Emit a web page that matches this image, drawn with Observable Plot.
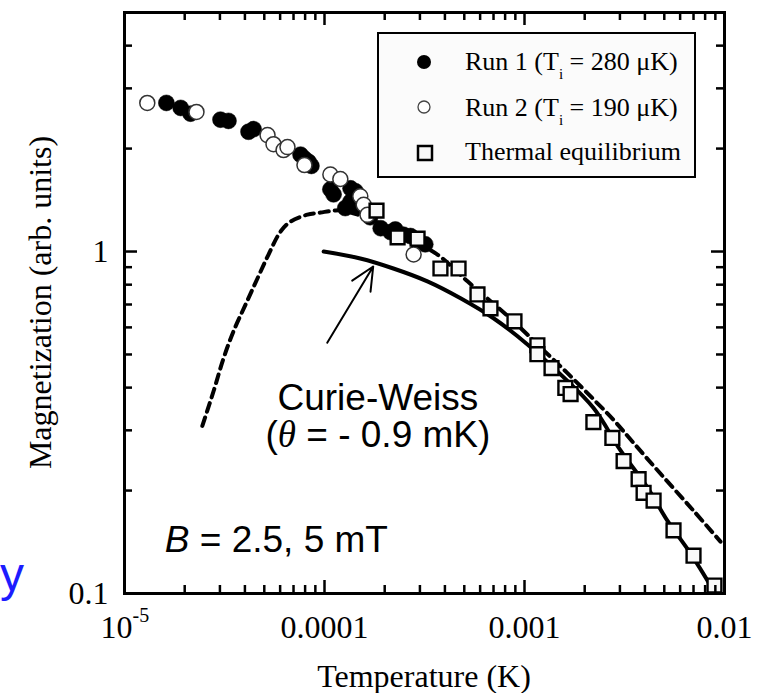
<!DOCTYPE html>
<html><head><meta charset="utf-8">
<script src="https://cdn.jsdelivr.net/npm/d3@7"></script>
<script src="https://cdn.jsdelivr.net/npm/@observablehq/plot@0.6"></script>
<style>body{margin:0;background:#fff} svg{display:block}</style>
</head><body><div id="chart"></div>
<script>
// ---- data ----
const run1T = [1.62e-5, 1.91e-5, 2.14e-5, 3.02e-5, 3.31e-5, 4.17e-5, 4.42e-5, 7.59e-5, 7.94e-5, 8.32e-5, 8.6e-5,
               1.07e-4, 1.11e-4, 1.27e-4, 1.35e-4, 1.35e-4, 1.43e-4, 1.46e-4, 1.69e-4, 1.91e-4, 2.14e-4, 2.26e-4, 2.48e-4, 2.69e-4, 2.92e-4, 3.19e-4];
const run1M = [2.72, 2.63, 2.53, 2.43, 2.41, 2.24, 2.28, 1.92, 1.87, 1.83, 1.78,
               1.52, 1.47, 1.34, 1.40, 1.53, 1.50, 1.35, 1.26, 1.17, 1.14, 1.16, 1.12, 1.11, 1.07, 1.05];
const run2T = [1.30e-5, 2.29e-5, 5.19e-5, 5.56e-5, 6.24e-5, 6.53e-5, 7.94e-5, 1.07e-4, 1.20e-4, 1.51e-4, 1.57e-4, 1.64e-4, 2.79e-4];
const run2M = [2.72, 2.56, 2.19, 2.06, 1.98, 2.02, 1.79, 1.68, 1.63, 1.45, 1.37, 1.28, 0.98];
const eqT = [1.82e-4, 2.32e-4, 2.92e-4, 3.80e-4, 4.68e-4, 5.82e-4, 6.76e-4, 8.91e-4, 1.16e-3, 1.16e-3, 1.365e-3, 1.60e-3, 1.70e-3,
             2.21e-3, 2.75e-3, 3.13e-3, 3.72e-3, 3.94e-3, 4.42e-3, 5.56e-3, 7.00e-3, 8.91e-3];
const eqM = [1.317, 1.10, 1.09, 0.892, 0.892, 0.749, 0.682, 0.625, 0.532, 0.501, 0.456, 0.399, 0.383,
             0.317, 0.285, 0.244, 0.216, 0.197, 0.187, 0.153, 0.129, 0.1055];
const cwT = [9.9e-5, 1.51e-4, 2.21e-4, 3.27e-4, 4.79e-4, 7.0e-4, 1.035e-3, 1.51e-3, 2.21e-3, 3.02e-3, 4.12e-3, 5.19e-3, 6.76e-3, 8.81e-3];
const cwM = [1.0, 0.954, 0.892, 0.818, 0.730, 0.638, 0.535, 0.438, 0.349, 0.262, 0.204, 0.163, 0.131, 0.102];
const dashT = [2.45e-5, 2.79e-5, 3.13e-5, 3.51e-5, 4.03e-5, 4.62e-5, 5.25e-5, 6.03e-5, 6.76e-5, 8.22e-5, 9.55e-5, 1.109e-4, 1.245e-4,
               1.905e-4, 2.69e-4, 3.67e-4, 5.19e-4, 8.81e-4, 1.20e-3, 1.64e-3, 2.21e-3, 2.79e-3, 3.51e-3, 4.79e-3, 7.0e-3, 9.55e-3];
const dashM = [0.309, 0.391, 0.488, 0.585, 0.700, 0.834, 0.980, 1.144, 1.223, 1.282, 1.30, 1.317, 1.317,
               1.207, 1.084, 0.980, 0.818, 0.625, 0.525, 0.441, 0.370, 0.3216, 0.2756, 0.2239, 0.1746, 0.1418];

const xTickValues = [1e-4, 1e-3, 1e-2];
const xTickLabels = ["0.0001", "0.001", "0.01"];
const yTickValues = [0.1, 1];
const yTickLabels = ["0.1", "1"];
const xMinorTicks = [2e-5,3e-5,4e-5,5e-5,6e-5,7e-5,8e-5,9e-5, 2e-4,3e-4,4e-4,5e-4,6e-4,7e-4,8e-4,9e-4, 2e-3,3e-3,4e-3,5e-3,6e-3,7e-3,8e-3,9e-3];
const xMajorTicks = [1e-4, 1e-3];
const yMinorTicks = [0.2,0.3,0.4,0.5,0.6,0.7,0.8,0.9, 2,3,4];
const yMajorTicks = [1];

const legendLabels = [["Run 1 (T", "i", " = 280 \u03BCK)"], ["Run 2 (T", "i", " = 190 \u03BCK)"], ["Thermal equilibrium"]];
const xTitle = "Temperature (K)";
const yTitle = "Magnetization (arb. units)";

// annotation anchors (data coordinates)
const cwLabel = {T: 1.86e-4, M1: 0.342, M2: 0.2665};
const bLabel = {T: 1.60e-5, M: 0.1317};
const arrowRows = [{T1: 1.032e-4, M1: 0.541, T2: 1.752e-4, M2: 0.904}];

// ---- build ----
const serif = "'Liberation Serif', 'Times New Roman', serif";
const sans = "'Liberation Sans', Arial, sans-serif";
const rows = (T, M) => T.map((t, i) => ({T: t, M: M[i]}));

const W = 769, H = 693, mL = 124, mR = 45, mT = 12, mB = 100;
const pw = W - mL - mR, ph = H - mT - mB;
const minorLen = 8, majorLen = 13;
const tickStyle = {stroke: "#000", strokeWidth: 2.5};

const chart = Plot.plot({
  width: W, height: H,
  marginLeft: mL, marginRight: mR, marginTop: mT, marginBottom: mB,
  style: {fontFamily: serif, background: "#fff", color: "#000"},
  x: {type: "log", domain: [1e-5, 1e-2]},
  y: {type: "log", domain: [0.1, 5]},
  marks: [
    Plot.line(rows(dashT, dashM), {x: "T", y: "M", stroke: "#000", strokeWidth: 4, strokeDasharray: "9,6", curve: "catmull-rom"}),
    Plot.line(rows(cwT, cwM), {x: "T", y: "M", stroke: "#000", strokeWidth: 4, curve: "catmull-rom"}),
    Plot.arrow(arrowRows, {x1: "T1", y1: "M1", x2: "T2", y2: "M2", stroke: "#000", strokeWidth: 2, headLength: 19, headAngle: 50}),
    Plot.dot(rows(run1T, run1M), {x: "T", y: "M", r: 8, fill: "#000", stroke: "#000", strokeWidth: 0.5}),
    Plot.dot(rows(run2T, run2M), {x: "T", y: "M", r: 7.5, fill: "#fff", stroke: "#333", strokeWidth: 1.5}),
    Plot.dot(rows(eqT, eqM), {x: "T", y: "M", symbol: "square", r: 7.8, fill: "#f8f8f8", stroke: "#000", strokeWidth: 2.4}),
    // inward ticks on all four sides
    Plot.tickX(xMinorTicks, {x: d => d, ...tickStyle, insetTop: ph - minorLen}),
    Plot.tickX(xMinorTicks, {x: d => d, ...tickStyle, insetBottom: ph - minorLen}),
    Plot.tickX(xMajorTicks, {x: d => d, ...tickStyle, insetTop: ph - majorLen}),
    Plot.tickX(xMajorTicks, {x: d => d, ...tickStyle, insetBottom: ph - majorLen}),
    Plot.tickY(yMinorTicks, {y: d => d, ...tickStyle, insetRight: pw - minorLen}),
    Plot.tickY(yMinorTicks, {y: d => d, ...tickStyle, insetLeft: pw - minorLen}),
    Plot.tickY(yMajorTicks, {y: d => d, ...tickStyle, insetRight: pw - majorLen}),
    Plot.tickY(yMajorTicks, {y: d => d, ...tickStyle, insetLeft: pw - majorLen}),
    Plot.frame({stroke: "#000", strokeWidth: 3}),
    Plot.axisX({ticks: xTickValues, tickFormat: d => xTickLabels[xTickValues.indexOf(d)], tickSize: 0, tickPadding: 22, fontSize: 32, fontFamily: serif, label: null}),
    Plot.axisY({ticks: yTickValues, tickFormat: d => yTickLabels[yTickValues.indexOf(d)], tickSize: 0, tickPadding: 16, fontSize: 32, fontFamily: serif, label: null}),
    Plot.text([1e-5], {x: d => d, frameAnchor: "bottom", text: () => "10", textAnchor: "end", lineAnchor: "top", dx: 8, dy: 22, fontSize: 32, fontFamily: serif}),
    Plot.text([1e-5], {x: d => d, frameAnchor: "bottom", text: () => "-5", textAnchor: "start", lineAnchor: "top", dx: 8, dy: 14, fontSize: 20, fontFamily: serif})
  ]
});
document.getElementById("chart").appendChild(chart);

const sx = chart.scale("x"), sy = chart.scale("y");
const svg = d3.select(chart);

// axis titles
svg.append("text").attr("x", mL + pw / 2).attr("y", 687).attr("text-anchor", "middle")
  .attr("font-family", serif).attr("font-size", 32).attr("fill", "#000").text(xTitle);
svg.append("text").attr("transform", `translate(51,${mT + ph / 2}) rotate(-90)`).attr("text-anchor", "middle")
  .attr("font-family", serif).attr("font-size", 32).attr("fill", "#000").text(yTitle);

// legend
const lg = svg.append("g");
lg.append("rect").attr("x", 378).attr("y", 33).attr("width", 317).attr("height", 144)
  .attr("fill", "#fbfbfb").attr("stroke", "#000").attr("stroke-width", 2);
lg.append("circle").attr("cx", 424).attr("cy", 62).attr("r", 7).attr("fill", "#000");
lg.append("circle").attr("cx", 424).attr("cy", 107).attr("r", 6).attr("fill", "#fff").attr("stroke", "#444").attr("stroke-width", 1.3);
lg.append("rect").attr("x", 418).attr("y", 146).attr("width", 14).attr("height", 14)
  .attr("fill", "#f8f8f8").attr("stroke", "#000").attr("stroke-width", 2.5);
const baselines = [70, 116, 160];
legendLabels.forEach((parts, i) => {
  const t = lg.append("text").attr("x", 465).attr("y", baselines[i]).attr("text-anchor", "start")
    .attr("font-family", serif).attr("font-size", 26).attr("fill", "#000");
  t.append("tspan").text(parts[0]);
  if (parts.length > 1) {
    t.append("tspan").attr("dy", 9).attr("font-size", 15).text(parts[1]);
    t.append("tspan").attr("dy", -9).text(parts[2]);
  }
});

// annotations
svg.append("text").attr("x", sx.apply(cwLabel.T)).attr("y", sy.apply(cwLabel.M1)).attr("text-anchor", "middle")
  .attr("font-family", sans).attr("font-size", 37).attr("fill", "#000").text("Curie-Weiss");
const a2 = svg.append("text").attr("x", sx.apply(cwLabel.T)).attr("y", sy.apply(cwLabel.M2)).attr("text-anchor", "middle")
  .attr("font-family", sans).attr("font-size", 37).attr("fill", "#000");
a2.append("tspan").text("(");
a2.append("tspan").attr("font-style", "italic").attr("font-family", serif).text("\u03B8");
a2.append("tspan").text(" = - 0.9 mK)");
const b = svg.append("text").attr("x", sx.apply(bLabel.T)).attr("y", sy.apply(bLabel.M)).attr("text-anchor", "start")
  .attr("font-family", sans).attr("font-size", 37).attr("fill", "#000");
b.append("tspan").attr("font-style", "italic").text("B");
b.append("tspan").text(" = 2.5, 5 mT");

// stray slide text at the left edge
svg.append("text").attr("x", 0).attr("y", 591).attr("text-anchor", "start")
  .attr("font-family", sans).attr("font-size", 48).attr("fill", "#1c1cff").text("y");
</script>
</body></html>
